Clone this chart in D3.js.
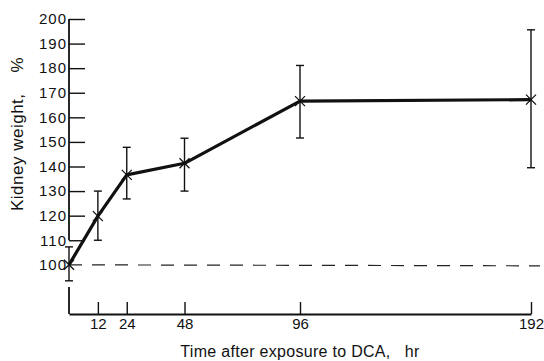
<!DOCTYPE html>
<html lang="en">
<head>
  <meta charset="utf-8" />
  <title>Kidney weight after DCA</title>
  <script src="https://d3js.org/d3.v7.min.js"></script>
  <style>
    body { margin: 0; background: #fff; }
    text { font-family: "Liberation Sans", Arial, sans-serif; fill: #111; }
  </style>
</head>
<body>
  <div id="chart"></div>
  <script>
    // data
    var hours  = [0, 12, 24, 48, 96, 192];
    var weight = [100, 119.8, 136.6, 141.3, 166.6, 167.2];
    var upper  = [107.3, 130, 147.8, 151.5, 181.1, 195.6];
    var lower  = [93.5, 110, 126.8, 130, 151.6, 139.5];
    var xTicks = [12, 24, 48, 96, 192];
    var yTicks = [100, 110, 120, 130, 140, 150, 160, 170, 180, 190, 200];

    var data = hours.map(function(h, i) {
      return { h: h, w: weight[i], hi: upper[i], lo: lower[i] };
    });

    var svg = d3.select("#chart")
                .append("svg")
                .attr("width", 544)
                .attr("height", 361);

    var x = d3.scaleLinear().domain([0, 192]).range([69, 531]);
    var y = d3.scaleLinear().domain([80, 200]).range([314, 19]);

    // y axis: ticks point inward, labels on the left
    var yAxis = svg.append("g")
       .attr("transform", "translate(" + x(0) + ",0)")
       .call(d3.axisLeft(y).tickValues(yTicks).tickSize(-16).tickPadding(2));
    yAxis.select(".domain").remove();
    yAxis.selectAll(".tick line")
         .attr("stroke", "#111").attr("stroke-width", 1.4)
         .filter(function(d) { return d === 100; }).remove();
    yAxis.selectAll(".tick text")
         .style("font-size", "15px")
         .style("letter-spacing", "1px");

    // broken y axis line
    svg.append("line")
       .attr("x1", x(0)).attr("x2", x(0))
       .attr("y1", y(200)).attr("y2", y(110))
       .attr("stroke", "#111").attr("stroke-width", 1.8);
    svg.append("line")
       .attr("x1", x(0)).attr("x2", x(0))
       .attr("y1", y(91)).attr("y2", y(80))
       .attr("stroke", "#111").attr("stroke-width", 1.8);

    // x axis: ticks point up
    var xAxis = svg.append("g")
       .attr("transform", "translate(0," + y(80) + ")")
       .call(d3.axisBottom(x).tickValues(xTicks).tickSizeInner(-12).tickSizeOuter(0).tickPadding(4));
    xAxis.select(".domain").attr("stroke", "#111").attr("stroke-width", 1.8);
    xAxis.selectAll(".tick line").attr("stroke", "#111").attr("stroke-width", 1.4);
    xAxis.selectAll(".tick text").style("font-size", "15px");

    // baseline at 100 %
    svg.append("line")
       .attr("x1", x(0)).attr("x2", x(192) + 9)
       .attr("y1", y(100)).attr("y2", y(100) + 1)
       .attr("stroke", "#222").attr("stroke-width", 1.2)
       .attr("stroke-dasharray", "13,10");

    // error bars
    var bars = svg.append("g").attr("stroke", "#111").attr("stroke-width", 1.4);
    bars.selectAll(".stem").data(data).enter().append("line")
        .attr("x1", function(d) { return x(d.h); })
        .attr("x2", function(d) { return x(d.h); })
        .attr("y1", function(d) { return y(d.hi); })
        .attr("y2", function(d) { return y(d.lo); });
    bars.selectAll(".capHi").data(data).enter().append("line")
        .attr("x1", function(d) { return x(d.h) - 4; })
        .attr("x2", function(d) { return x(d.h) + 4; })
        .attr("y1", function(d) { return y(d.hi); })
        .attr("y2", function(d) { return y(d.hi); });
    bars.selectAll(".capLo").data(data).enter().append("line")
        .attr("x1", function(d) { return x(d.h) - 4; })
        .attr("x2", function(d) { return x(d.h) + 4; })
        .attr("y1", function(d) { return y(d.lo); })
        .attr("y2", function(d) { return y(d.lo); });

    // the mean line
    var line = d3.line()
                 .x(function(d) { return x(d.h); })
                 .y(function(d) { return y(d.w); });
    svg.append("path")
       .datum(data)
       .attr("d", line)
       .attr("fill", "none")
       .attr("stroke", "#111")
       .attr("stroke-width", 3.2)
       .attr("stroke-linejoin", "round");

    // cross markers
    svg.selectAll(".mark")
       .data(data)
       .enter()
       .append("path")
       .attr("transform", function(d) { return "translate(" + x(d.h) + "," + y(d.w) + ")"; })
       .attr("d", "M-5,-5L5,5M-5,5L5,-5")
       .attr("stroke", "#111")
       .attr("stroke-width", 1.3);

    // axis titles
    svg.append("text")
       .attr("x", 300).attr("y", 357)
       .attr("text-anchor", "middle")
       .style("font-size", "16px")
       .style("letter-spacing", "0.3px")
       .text("Time after exposure to DCA,\u00a0\u00a0 hr");

    svg.append("text")
       .attr("transform", "translate(23,134) rotate(-90)")
       .attr("text-anchor", "middle")
       .style("font-size", "17px")
       .style("letter-spacing", "0.5px")
       .text("Kidney weight,\u00a0\u00a0\u00a0 %");
  </script>
</body>
</html>
